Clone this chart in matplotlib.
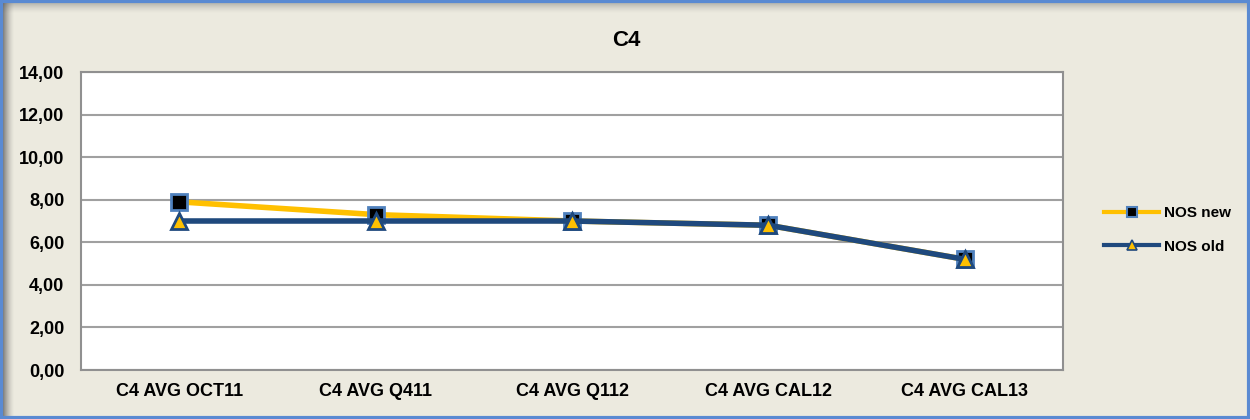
import numpy as np
import matplotlib as mpl
from matplotlib import pyplot as plt
from matplotlib.patches import Rectangle
from matplotlib.lines import Line2D

mpl.rcParams['font.family'] = ['Liberation Sans', 'DejaVu Sans']
mpl.rcParams['font.weight'] = 'bold'

# data
categories = ['C4 AVG OCT11', 'C4 AVG Q411', 'C4 AVG Q112', 'C4 AVG CAL12', 'C4 AVG CAL13']
nos_new = [7.9, 7.3, 7.0, 6.8, 5.2]
nos_old = [7.0, 7.0, 7.0, 6.8, 5.2]
series_names = ['NOS new', 'NOS old']
y_ticks = [0, 2, 4, 6, 8, 10, 12, 14]

W, H = 1250, 419
fig = plt.figure(figsize=(W / 100, H / 100), dpi=100)
fig.patch.set_facecolor('#ECEADF')


def shadow(rect, horizontal, strength):
    # 渐变阴影 (从深到透明)
    a = fig.add_axes(rect)
    n = 12
    img = np.zeros((1, n, 4)) if horizontal else np.zeros((n, 1, 4))
    alpha = np.linspace(strength, 0, n) ** 1.5
    if horizontal:
        img[0, :, 3] = alpha
    else:
        img[:, 0, 3] = alpha
    img[..., :3] = 0.35
    a.imshow(img, aspect='auto', extent=(0, 1, 0, 1), interpolation='bilinear')
    a.axis('off')


shadow([3 / W, 3 / H, 12 / W, 1 - 6 / H], True, 0.8)
shadow([3 / W, 1 - 14 / H, 1 - 6 / W, 11 / H], False, 0.5)

# 外框
fig.patches.append(Rectangle((1.5 / W, 1.5 / H), 1 - 3 / W, 1 - 3 / H,
                             transform=fig.transFigure, fill=False,
                             edgecolor='#5A8AD2', linewidth=3, zorder=10))

# 绘图区
ax = fig.add_axes([81 / W, 1 - 370 / H, (1063 - 81) / W, (370 - 72) / H])
ax.set_facecolor('white')
x = np.arange(len(categories))

new_style = dict(color='#FFC000', marker='s', markerfacecolor='black',
                 markeredgecolor='#4F81BD')
old_style = dict(color='#1F497D', marker='^', markerfacecolor='#FFC000',
                 markeredgecolor='#1F497D')

ax.plot(x, nos_new, linewidth=4, markersize=11, markeredgewidth=2, zorder=3, **new_style)
ax.plot(x, nos_old, linewidth=4, markersize=12, markeredgewidth=2, zorder=4, **old_style)

ax.set_xlim(-0.5, len(categories) - 0.5)
ax.set_ylim(0, 14)
ax.set_yticks(y_ticks)
ax.set_yticklabels([('%.2f' % v).replace('.', ',') for v in y_ticks], fontsize=13)
ax.tick_params(axis='y', length=0, pad=12)
ax.set_xticks(x)
ax.set_xticklabels(categories, fontsize=13)
ax.tick_params(axis='x', length=0, pad=9)
ax.grid(axis='y', color='#A0A0A0', linewidth=1.5)
ax.set_axisbelow(True)
for s in ax.spines.values():
    s.set_color('#909090')
    s.set_linewidth(1.5)

fig.text(626 / W, 1 - 40 / H, 'C4', fontsize=16, fontweight='bold',
         ha='center', va='center')

# 图例
handles = [Line2D([], [], linewidth=3, markersize=7, markeredgewidth=1.5, **new_style),
           Line2D([], [], linewidth=3, markersize=7, markeredgewidth=1.2, **old_style)]
fig.legend(handles, series_names, loc='center left',
           bbox_to_anchor=(1098 / W, 1 - 230 / H),
           frameon=False, fontsize=11, handlelength=3.6, labelspacing=1.25,
           handletextpad=0.3, borderaxespad=0)

plt.savefig('out.png', dpi=100, facecolor=fig.get_facecolor())
